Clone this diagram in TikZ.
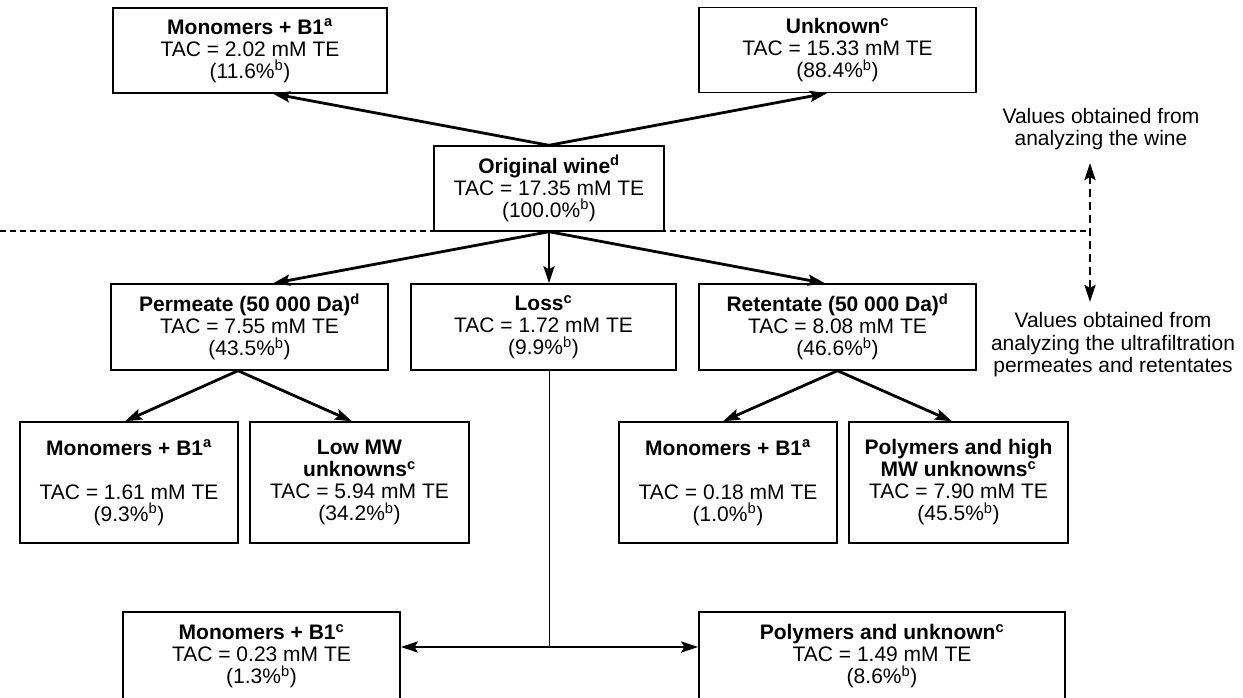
\documentclass[tikz,border=0pt]{standalone}
\usepackage{fontspec}
\setmainfont{Liberation Sans}
\usetikzlibrary{arrows.meta}
\newcommand{\sy}[1]{\textsuperscript{#1}}
\tikzset{
  >={Stealth[length=17pt,width=11pt,inset=3pt]},
  box/.style={draw, line width=1.4pt, align=center, inner sep=0pt, font=\fontsize{21}{22}\selectfont},
  flow/.style={line width=2.8pt, ->},
  note/.style={align=center, font=\fontsize{21}{22.5}\selectfont}
}

\begin{document}
\begin{tikzpicture}[x=1pt, y=-1pt]
\useasboundingbox (0,0) rectangle (1243,697);
\node[box, minimum width=274pt, minimum height=85pt] (mtop) at (250,50.5) {\textbf{Monomers + B1\sy{a}}\\ TAC = 2.02 mM TE\\ (11.6\%\sy{b})};
\node[box, minimum width=277pt, minimum height=85pt] (utop) at (837.5,50) {\textbf{Unknown\sy{c}}\\ TAC = 15.33 mM TE\\ (88.4\%\sy{b})};
\node[box, minimum width=230pt, minimum height=85pt] (wine) at (549,188.5) {\textbf{Original wine\sy{d}}\\ TAC = 17.35 mM TE\\ (100.0\%\sy{b})};
\node[box, minimum width=277pt, minimum height=86pt] (perm) at (249.5,327) {\textbf{Permeate (50 000 Da)\sy{d}}\\ TAC = 7.55 mM TE\\ (43.5\%\sy{b})};
\node[box, minimum width=265pt, minimum height=86pt] (loss) at (543.5,327) {\textbf{Loss\sy{c}}\\ TAC = 1.72 mM TE\\ (9.9\%\sy{b})};
\node[box, minimum width=277pt, minimum height=86pt] (ret) at (837.5,327) {\textbf{Retentate (50 000 Da)\sy{d}}\\ TAC = 8.08 mM TE\\ (46.6\%\sy{b})};
\node[box, minimum width=218pt, minimum height=121pt] (pmono) at (129,482.5) {\textbf{Monomers + B1\sy{a}}\\[22pt] TAC = 1.61 mM TE\\ (9.3\%\sy{b})};
\node[box, minimum width=219pt, minimum height=121pt] (plow) at (359.5,482.5) {\textbf{Low MW}\\ \textbf{unknowns\sy{c}}\\ TAC = 5.94 mM TE\\ (34.2\%\sy{b})};
\node[box, minimum width=218pt, minimum height=121pt] (rmono) at (728,482.5) {\textbf{Monomers + B1\sy{a}}\\[22pt] TAC = 0.18 mM TE\\ (1.0\%\sy{b})};
\node[box, minimum width=219pt, minimum height=121pt] (rpoly) at (958.5,482.5) {\textbf{Polymers and high}\\ \textbf{MW unknowns\sy{c}}\\ TAC = 7.90 mM TE\\ (45.5\%\sy{b})};
\node[box, minimum width=277pt, minimum height=88pt] (bmono) at (261.5,656) {\textbf{Monomers + B1\sy{c}}\\ TAC = 0.23 mM TE\\ (1.3\%\sy{b})};
\node[box, minimum width=366pt, minimum height=88pt] (bpoly) at (882,656) {\textbf{Polymers and unknown\sy{c}}\\ TAC = 1.49 mM TE\\ (8.6\%\sy{b})};
\node[note] (wnote) at (1101,129) {Values obtained from\\ analyzing the wine};
\node[note] (unote) at (1113,345) {Values obtained from\\ analyzing the ultrafiltration\\ permeates and retentates};
\coordinate (dl) at (0,231);
\coordinate (dr) at (1090,231);
\coordinate (up) at (1090,163);
\coordinate (dn) at (1090,302);
\coordinate (jn) at (549,647);
\draw[flow] (wine.north) -- ([xshift=23pt]mtop.south);
\draw[flow] (wine.north) -- ([xshift=-10.5pt]utop.south);
\draw[line width=1.5pt, dash pattern=on 6pt off 4pt] (dl) -- (dr);
\draw[line width=2.8pt, dash pattern=on 8pt off 5pt, <->] (up) -- (dn);
\draw[flow] (wine.south) -- ([xshift=23.5pt]perm.north);
\draw[flow] (wine.south) -- ([xshift=5.5pt]loss.north);
\draw[flow] (wine.south) -- ([xshift=-12.5pt]ret.north);
\draw[flow] ([xshift=-11.5pt]perm.south) -- ([xshift=-4pt]pmono.north);
\draw[flow] ([xshift=-11.5pt]perm.south) -- ([xshift=-7.5pt]plow.north);
\draw[flow] (ret.south) -- ([xshift=-5pt]rmono.north);
\draw[flow] (ret.south) -- ([xshift=-6.5pt]rpoly.north);
\draw[line width=1pt] ([xshift=5.5pt]loss.south) -- (jn);
\draw[flow, <->] (bmono.east |- jn) -- (bpoly.west |- jn);
\end{tikzpicture}
\end{document}
